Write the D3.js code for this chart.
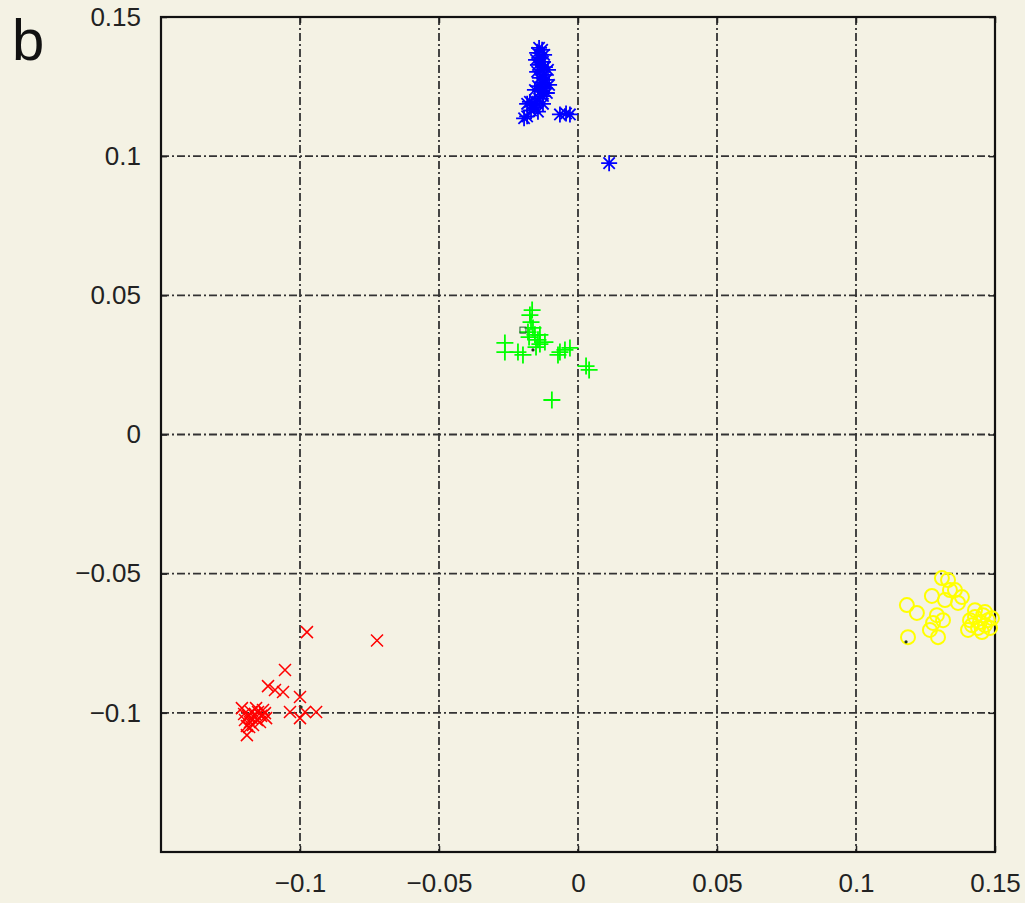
<!DOCTYPE html>
<html>
<head>
<meta charset="utf-8">
<script src="https://cdn.jsdelivr.net/npm/d3@7"></script>
<style>
  html, body { margin: 0; padding: 0; background: #f4f2e4; }
  svg { display: block; }
</style>
</head>
<body>
<svg id="chart" width="1025" height="903"></svg>
<script>
// ---- data ----
const xTicks = [-0.1, -0.05, 0, 0.05, 0.1, 0.15];
const yTicks = [-0.1, -0.05, 0, 0.05, 0.1, 0.15];
const gridX = [-0.1, -0.05, 0, 0.05, 0.1];
const gridY = [-0.1, -0.05, 0, 0.05, 0.1];

const blueStars = [
  [-0.0140, 0.1389], [-0.0129, 0.1382], [-0.0147, 0.1371], [-0.0122, 0.1364],
  [-0.0137, 0.1353], [-0.0151, 0.1346], [-0.0126, 0.1339], [-0.0144, 0.1328],
  [-0.0119, 0.1320], [-0.0133, 0.1310], [-0.0147, 0.1303], [-0.0122, 0.1292],
  [-0.0137, 0.1281], [-0.0115, 0.1274], [-0.0129, 0.1263], [-0.0144, 0.1252],
  [-0.0119, 0.1245], [-0.0133, 0.1234], [-0.0112, 0.1227], [-0.0126, 0.1216],
  [-0.0140, 0.1206], [-0.0151, 0.1195], [-0.0162, 0.1188], [-0.0173, 0.1195],
  [-0.0183, 0.1188], [-0.0155, 0.1174], [-0.0169, 0.1164], [-0.0183, 0.1143],
  [-0.0194, 0.1136], [-0.0144, 0.1160], [-0.0126, 0.1188], [-0.0065, 0.1150],
  [-0.0043, 0.1153], [-0.0029, 0.1150], [0.0112, 0.0975],
  [-0.0108, 0.1310], [-0.0155, 0.1238], [-0.0104, 0.1256]
];

const greenPlus = [
  [-0.0165, 0.0447], [-0.0173, 0.0429], [-0.0169, 0.0404], [-0.0162, 0.0383],
  [-0.0180, 0.0368], [-0.0155, 0.0358], [-0.0144, 0.0340], [-0.0137, 0.0325],
  [-0.0151, 0.0314], [-0.0176, 0.0350], [-0.0263, 0.0329], [-0.0263, 0.0296],
  [-0.0216, 0.0296], [-0.0198, 0.0286], [-0.0119, 0.0332], [-0.0137, 0.0358],
  [-0.0072, 0.0286], [-0.0065, 0.0296], [-0.0047, 0.0304], [-0.0029, 0.0311],
  [0.0029, 0.0246], [0.0040, 0.0232], [-0.0094, 0.0124]
];

const redCross = [
  [-0.0975, -0.0710], [-0.0723, -0.0740], [-0.1054, -0.0846], [-0.1115, -0.0904],
  [-0.1090, -0.0918], [-0.1061, -0.0925], [-0.1000, -0.0943], [-0.1036, -0.0997],
  [-0.0982, -0.0997], [-0.0942, -0.0997], [-0.1000, -0.1019], [-0.1198, -0.1026],
  [-0.1187, -0.1011], [-0.1180, -0.1033], [-0.1173, -0.1019], [-0.1162, -0.1004],
  [-0.1155, -0.1026], [-0.1169, -0.1044], [-0.1151, -0.0997], [-0.1140, -0.1011],
  [-0.1133, -0.0990], [-0.1191, -0.1047], [-0.1176, -0.0997], [-0.1144, -0.1033],
  [-0.1126, -0.1001], [-0.1201, -0.1004], [-0.1191, -0.1080],
  [-0.1209, -0.0983], [-0.1122, -0.1019], [-0.1183, -0.1051], [-0.1158, -0.0983]
];

const yellowCircles = [
  [0.1183, -0.0613], [0.1219, -0.0641], [0.1187, -0.0728], [0.1273, -0.0580],
  [0.1291, -0.0649], [0.1266, -0.0702], [0.1295, -0.0728], [0.1309, -0.0516],
  [0.1331, -0.0523], [0.1356, -0.0559], [0.1381, -0.0584], [0.1320, -0.0595],
  [0.1367, -0.0605], [0.1338, -0.0559], [0.1313, -0.0667], [0.1277, -0.0677],
  [0.1410, -0.0667], [0.1428, -0.0656], [0.1446, -0.0674], [0.1464, -0.0685],
  [0.1475, -0.0667], [0.1439, -0.0695], [0.1457, -0.0649], [0.1482, -0.0695],
  [0.1417, -0.0685],
  [0.1428, -0.0631], [0.1464, -0.0638], [0.1489, -0.0660], [0.1403, -0.0702], [0.1453, -0.0710]
];

const darkDots = [[-0.0996, -0.0979], [0.1180, -0.0745], [-0.0162, 0.0304]];
const darkSquares = [[-0.0198, 0.0375]];

const panelLabel = "b";

// ---- layout ----
const pL = 161, pR = 995, pT = 17, pB = 852;
const svg = d3.select("#chart");
svg.append("rect").attr("width", 1025).attr("height", 903).attr("fill", "#f4f2e4");

const x = d3.scaleLinear().domain([-0.15, 0.15]).range([pL, pR]);
const y = d3.scaleLinear().domain([-0.15, 0.15]).range([pB, pT]);

const fmt = v => (v < 0 ? "\u2212" : "") + String(Math.abs(+v.toFixed(3)));

// grid
const grid = svg.append("g").attr("stroke", "#333").attr("stroke-width", 1.8)
  .attr("stroke-dasharray", "8,3,2,3").attr("fill", "none");
grid.selectAll("line.gx").data(gridX).join("line").attr("class", "gx")
  .attr("x1", d => x(d)).attr("x2", d => x(d)).attr("y1", pT).attr("y2", pB);
grid.selectAll("line.gy").data(gridY).join("line").attr("class", "gy")
  .attr("y1", d => y(d)).attr("y2", d => y(d)).attr("x1", pL).attr("x2", pR);

// axes with inward ticks
const fontFam = "'Liberation Sans', Arial, Helvetica, sans-serif";
const xAxis = svg.append("g").attr("transform", `translate(0,${pB})`)
  .call(d3.axisBottom(x).tickValues(xTicks).tickSize(-6).tickSizeOuter(0).tickFormat(fmt).tickPadding(22));
const yAxis = svg.append("g").attr("transform", `translate(${pL},0)`)
  .call(d3.axisLeft(y).tickValues(yTicks).tickSize(-6).tickSizeOuter(0).tickFormat(fmt).tickPadding(20));
svg.append("g").attr("transform", `translate(0,${pT})`)
  .call(d3.axisTop(x).tickValues(xTicks).tickSize(-6).tickSizeOuter(0).tickFormat(""));
svg.append("g").attr("transform", `translate(${pR},0)`)
  .call(d3.axisRight(y).tickValues(yTicks).tickSize(-6).tickSizeOuter(0).tickFormat(""));
svg.selectAll(".domain").remove();
svg.selectAll(".tick line").attr("stroke", "#222").attr("stroke-width", 1.5);
[xAxis, yAxis].forEach(a => a.selectAll("text")
  .attr("font-family", fontFam).attr("font-size", 26).attr("fill", "#222"));

// box
svg.append("rect").attr("x", pL).attr("y", pT).attr("width", pR - pL).attr("height", pB - pT)
  .attr("fill", "none").attr("stroke", "#111").attr("stroke-width", 2.2);

// markers
const marks = svg.append("g");
const starPath = r => {
  const d = r * 0.7071;
  return `M${-r},0L${r},0M0,${-r}L0,${r}M${-d},${-d}L${d},${d}M${-d},${d}L${d},${-d}`;
};
const plusPath = r => `M${-r},0L${r},0M0,${-r}L0,${r}`;
const crossPath = r => `M${-r},${-r}L${r},${r}M${-r},${r}L${r},${-r}`;

marks.selectAll("path.star").data(blueStars).join("path").attr("class", "star")
  .attr("transform", d => `translate(${x(d[0])},${y(d[1])})`)
  .attr("d", starPath(8)).attr("stroke", "#0000ff").attr("stroke-width", 1.8).attr("fill", "none");

marks.selectAll("path.plus").data(greenPlus).join("path").attr("class", "plus")
  .attr("transform", d => `translate(${x(d[0])},${y(d[1])})`)
  .attr("d", plusPath(8.5)).attr("stroke", "#00ff00").attr("stroke-width", 1.8).attr("fill", "none");

marks.selectAll("path.cross").data(redCross).join("path").attr("class", "cross")
  .attr("transform", d => `translate(${x(d[0])},${y(d[1])})`)
  .attr("d", crossPath(6)).attr("stroke", "#ff0000").attr("stroke-width", 1.5).attr("fill", "none");

marks.selectAll("circle.yc").data(yellowCircles).join("circle").attr("class", "yc")
  .attr("cx", d => x(d[0])).attr("cy", d => y(d[1])).attr("r", 7)
  .attr("stroke", "#ffff00").attr("stroke-width", 2).attr("fill", "none");

marks.selectAll("circle.dd").data(darkDots).join("circle").attr("class", "dd")
  .attr("cx", d => x(d[0])).attr("cy", d => y(d[1])).attr("r", 1.6).attr("fill", "#223322");
marks.selectAll("rect.ds").data(darkSquares).join("rect").attr("class", "ds")
  .attr("x", d => x(d[0]) - 3).attr("y", d => y(d[1]) - 3).attr("width", 6).attr("height", 6)
  .attr("fill", "none").attr("stroke", "#1f5f2f").attr("stroke-width", 1);

// panel label
svg.append("text").attr("x", 12).attr("y", 60).text(panelLabel)
  .attr("font-family", fontFam).attr("font-size", 58).attr("fill", "#111");
</script>
</body>
</html>
